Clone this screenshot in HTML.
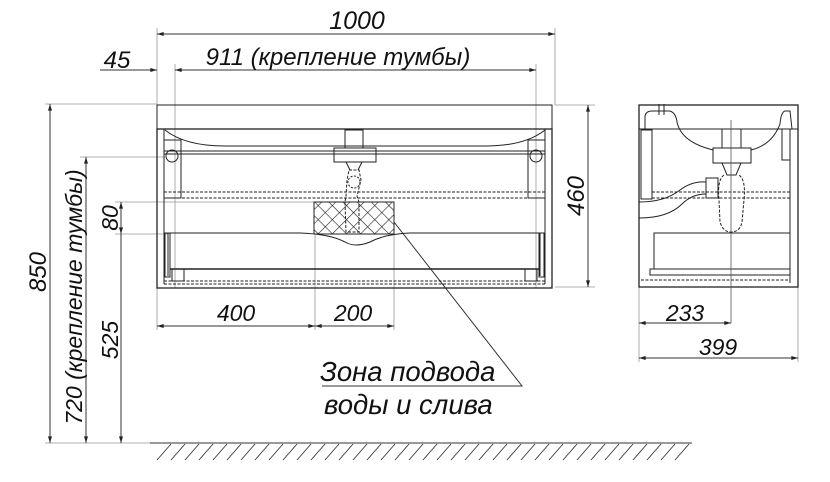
<!DOCTYPE html>
<html><head><meta charset="utf-8"><style>
html,body{margin:0;padding:0;background:#fff;}
svg{display:block;}
text{font-family:"Liberation Sans","DejaVu Sans",sans-serif;font-style:italic;fill:#111;}
</style></head><body>
<svg width="830" height="482" viewBox="0 0 830 482" xmlns="http://www.w3.org/2000/svg">
<defs>
<marker id="a" viewBox="0 0 10 6" refX="10" refY="3" markerWidth="8" markerHeight="4" orient="auto-start-reverse"><path d="M0,0 L10,3 L0,6z" fill="#222"/></marker>
<pattern id="x" width="10" height="10" patternUnits="userSpaceOnUse" patternTransform="rotate(45)"><path d="M0,0 V10 M0,0 H10" stroke="#222" stroke-width="1.2"/></pattern>
</defs>
<g fill="none" stroke="#999" stroke-width="0.8">
<line x1="157" y1="28" x2="157" y2="105"/><line x1="555" y1="28" x2="555" y2="105"/>
<line x1="175" y1="64" x2="175" y2="288"/><line x1="536" y1="64" x2="536" y2="288"/>
<line x1="45" y1="104" x2="157" y2="104"/><line x1="80" y1="157" x2="165" y2="157"/>
<line x1="115" y1="202" x2="314" y2="202"/><line x1="115" y1="234" x2="168" y2="234"/>
<line x1="157" y1="288" x2="157" y2="330"/><line x1="315" y1="234" x2="315" y2="330"/><line x1="394" y1="234" x2="394" y2="330"/>
<line x1="555" y1="105" x2="595" y2="105"/><line x1="555" y1="287" x2="595" y2="287"/>
<line x1="639" y1="287" x2="639" y2="362"/><line x1="798" y1="287" x2="798" y2="362"/>
<line x1="45" y1="443" x2="157" y2="443"/>
</g>
<g fill="none" stroke="#333" stroke-width="1">
<line x1="157" y1="34" x2="555" y2="34" marker-start="url(#a)" marker-end="url(#a)"/>
<line x1="100" y1="70" x2="157" y2="70" marker-end="url(#a)"/>
<line x1="175" y1="70" x2="536" y2="70" marker-start="url(#a)" marker-end="url(#a)"/>
<line x1="50" y1="104" x2="50" y2="443" marker-start="url(#a)" marker-end="url(#a)"/>
<line x1="86" y1="157" x2="86" y2="443" marker-start="url(#a)" marker-end="url(#a)"/>
<line x1="121" y1="202" x2="121" y2="234" marker-start="url(#a)" marker-end="url(#a)"/>
<line x1="121" y1="234" x2="121" y2="443" marker-end="url(#a)"/>
<line x1="157" y1="326" x2="315" y2="326" marker-start="url(#a)" marker-end="url(#a)"/>
<line x1="315" y1="326" x2="394" y2="326" marker-start="url(#a)" marker-end="url(#a)"/>
<line x1="588" y1="105" x2="588" y2="287" marker-start="url(#a)" marker-end="url(#a)"/>
<line x1="639" y1="323" x2="731" y2="323" marker-start="url(#a)" marker-end="url(#a)"/>
<line x1="639" y1="358" x2="798" y2="358" marker-start="url(#a)" marker-end="url(#a)"/>
<polyline points="394,222 522,386 322,386"/>
<line x1="150" y1="443" x2="692" y2="443"/>
</g>
<g stroke="#333" stroke-width="0.9">
<path d="M157,460 l14,-16 M171,460 l14,-16 M185,460 l14,-16 M199,460 l14,-16 M213,460 l14,-16 M227,460 l14,-16 M241,460 l14,-16 M255,460 l14,-16 M269,460 l14,-16 M283,460 l14,-16 M297,460 l14,-16 M311,460 l14,-16 M325,460 l14,-16 M339,460 l14,-16 M353,460 l14,-16 M367,460 l14,-16 M381,460 l14,-16 M395,460 l14,-16 M409,460 l14,-16 M423,460 l14,-16 M437,460 l14,-16 M451,460 l14,-16 M465,460 l14,-16 M479,460 l14,-16 M493,460 l14,-16 M507,460 l14,-16 M521,460 l14,-16 M535,460 l14,-16 M549,460 l14,-16 M563,460 l14,-16 M577,460 l14,-16 M591,460 l14,-16 M605,460 l14,-16 M619,460 l14,-16 M633,460 l14,-16 M647,460 l14,-16 M661,460 l14,-16 M675,460 l14,-16"/>
</g>
<g fill="none" stroke="#222" stroke-width="1">
<rect x="157" y="105" width="395" height="24"/>
<rect x="157" y="129" width="395" height="159" stroke-width="1.3"/>
<line x1="164" y1="129" x2="164" y2="284"/><line x1="545" y1="129" x2="545" y2="284"/>
<path d="M165,130 Q185,146 225,146 L485,146 Q525,146 545,130"/>
<line x1="164" y1="151" x2="545" y2="151"/><line x1="164" y1="154" x2="545" y2="154"/>
<rect x="164" y="140" width="17" height="58"/><rect x="528" y="140" width="17" height="58"/>
<circle cx="172" cy="156" r="6"/><circle cx="536" cy="156" r="6"/>
<rect x="345" y="130" width="18" height="18"/>
<rect x="334" y="148" width="42" height="14"/>
<path d="M346,162 L350,170 M362,162 L358,170" />
<path d="M349,170 L359,170 L361,180 L357,196 L359,202 L359,232 L346,232 L345,202 L346,196 L347,180Z" stroke-dasharray="3,1.5"/>
<circle cx="354" cy="182" r="6" stroke-dasharray="2,1.5"/>
<line x1="164" y1="192" x2="545" y2="192" stroke-dasharray="3,1.5"/>
<line x1="164" y1="198" x2="545" y2="198" stroke-dasharray="3,1.5"/>
<rect x="314" y="202" width="80" height="32" fill="url(#x)"/>
<path d="M168,233 L300,233 Q330,234 345,242 Q355,248 370,242 Q385,234 410,233 L540,233"/>
<line x1="168" y1="233" x2="168" y2="276"/><line x1="540" y1="233" x2="540" y2="276"/>
<rect x="165" y="233" width="5" height="44"/><rect x="539" y="233" width="5" height="44"/>
<line x1="170" y1="269" x2="539" y2="269" stroke-width="1.6"/>
<rect x="172" y="269" width="12" height="12"/><rect x="525" y="269" width="12" height="12"/>
<line x1="164" y1="281" x2="545" y2="281" stroke-dasharray="3,1.5"/>
<line x1="164" y1="284" x2="545" y2="284" stroke-dasharray="3,1.5"/>
</g>
<g fill="none" stroke="#222" stroke-width="1">
<rect x="639" y="105" width="159" height="182" stroke-width="1.3"/>
<line x1="639" y1="129" x2="798" y2="129"/>
<line x1="790" y1="129" x2="790" y2="283"/>
<path d="M645,129 L645,116 Q646,111 652,111 L670,111 Q676,113 677,122 Q681,142 713,150"/>
<path d="M751,150 Q772,145 780,124 Q781,112 785,111 L790,111 L792,129"/>
<rect x="713" y="148" width="38" height="15"/>
<line x1="722" y1="129" x2="722" y2="148"/><line x1="741" y1="129" x2="741" y2="148"/>
<path d="M659,104 L659,115 M664,104 L664,115" />
<rect x="641" y="130" width="11" height="69"/>
<line x1="652" y1="129" x2="652" y2="199" stroke-dasharray="3,1.5"/>
<rect x="782" y="129" width="8" height="31"/>
<line x1="652" y1="192" x2="790" y2="192" stroke-dasharray="3,1.5"/>
<line x1="652" y1="198" x2="790" y2="198" stroke-dasharray="3,1.5"/>
<path d="M722,163 L727,175 L736,175 L741,163"/>
<path d="M724,175 Q717,180 719,200 L720,222 Q723,232 731,232 Q740,232 742,222 L744,200 Q746,180 739,175" stroke-dasharray="3,1.5"/>
<path d="M639,202 Q665,202 680,190 Q692,181 706,182"/>
<path d="M639,218 Q668,218 682,204 Q692,194 706,194"/>
<rect x="706" y="178" width="12" height="20"/>
<rect x="654" y="233" width="136" height="36"/>
<rect x="650" y="269" width="140" height="6"/>
<line x1="641" y1="280" x2="790" y2="280" stroke-dasharray="3,1.5"/>
</g>
<line x1="731" y1="120" x2="731" y2="323" stroke="#555" stroke-width="0.8"/>
<text x="357" y="29" font-size="25" text-anchor="middle">1000</text>
<text x="117" y="68" font-size="24" text-anchor="middle">45</text>
<text x="338" y="65" font-size="24" text-anchor="middle">911 (крепление тумбы)</text>
<text x="236" y="321" font-size="23" text-anchor="middle">400</text>
<text x="353" y="321" font-size="23" text-anchor="middle">200</text>
<text x="685" y="321" font-size="23" text-anchor="middle">233</text>
<text x="718" y="355" font-size="23" text-anchor="middle">399</text>
<text transform="translate(46,272) rotate(-90)" font-size="24" text-anchor="middle">850</text>
<text transform="translate(82,297) rotate(-90)" font-size="23" text-anchor="middle">720 (крепление тумбы)</text>
<text transform="translate(118,218) rotate(-90)" font-size="23" text-anchor="middle">80</text>
<text transform="translate(118,340) rotate(-90)" font-size="23" text-anchor="middle">525</text>
<text transform="translate(584,196) rotate(-90)" font-size="24" text-anchor="middle">460</text>
<text x="320" y="381" font-size="27.5">Зона подвода</text>
<text x="324" y="414" font-size="27.5">воды и слива</text>
</svg>
</body></html>
